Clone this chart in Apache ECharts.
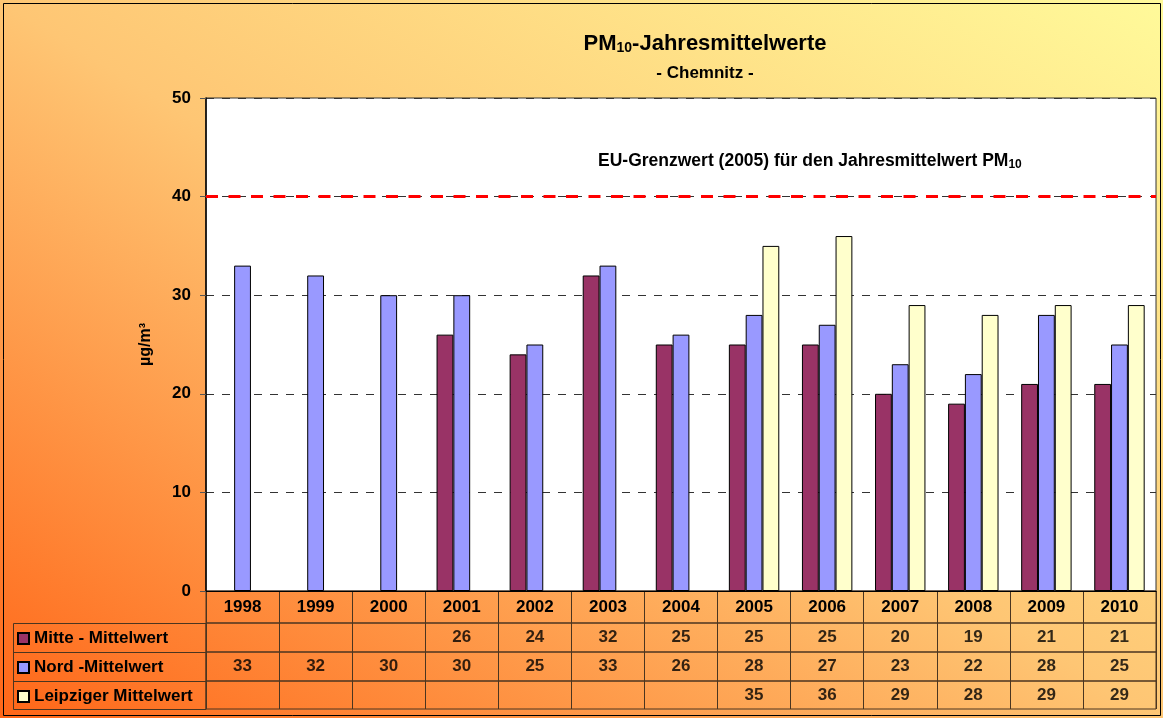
<!DOCTYPE html>
<html>
<head>
<meta charset="utf-8">
<script src="https://cdn.jsdelivr.net/npm/echarts@6/dist/echarts.min.js"></script>
<style>
  html, body { margin: 0; padding: 0; }
  #main { width: 1163px; height: 718px; }
</style>
</head>
<body>
<div id="main"></div>
<script>
// PM10-Jahresmittelwerte Chemnitz
var years = ['1998', '1999', '2000', '2001', '2002', '2003', '2004', '2005', '2006', '2007', '2008', '2009', '2010'];
var mitte = [null, null, null, 26, 24, 32, 25, 25, 25, 20, 19, 21, 21];
var nord = [33, 32, 30, 30, 25, 33, 26, 28, 27, 23, 22, 28, 25];
var leipzig = [null, null, null, null, null, null, null, 35, 36, 29, 28, 29, 29];
var seriesNames = ['Mitte - Mittelwert', 'Nord -Mittelwert', 'Leipziger Mittelwert'];
var seriesColors = ['#993366', '#9999FF', '#FFFFCC'];
var limitValue = 40;

var font = '"Liberation Sans", Arial, sans-serif';
var tableLine = '#4a3520';

var myChart = echarts.init(document.getElementById('main'));

// grids: 0 = plot, 1 = header row, 2..4 = table rows
var rowTops = [591, 623, 652, 681];
var rowHeights = [32, 29, 29, 28];
var grids = [{
    left: 206, right: 7, top: 98, height: 493,
    show: true, backgroundColor: '#fff', borderColor: '#333', borderWidth: 1
}];
var xAxes = [{
    type: 'category', gridIndex: 0, data: years,
    axisLine: { lineStyle: { color: '#000', width: 1 } },
    axisTick: { show: false },
    axisLabel: { margin: 8, color: '#000', fontSize: 17, fontWeight: 'bold', fontFamily: font }
}];
var yAxes = [{
    type: 'value', gridIndex: 0, min: 0, max: 50, interval: 10,
    name: 'µg/m³', nameLocation: 'middle', nameGap: 52, nameRotate: 90,
    nameTextStyle: { color: '#000', fontSize: 16, fontWeight: 'bold', fontFamily: font },
    axisLine: { show: true, lineStyle: { color: '#000', width: 1.5 } },
    axisTick: { show: true, length: 6, lineStyle: { color: '#555' } },
    axisLabel: { margin: 15, color: '#000', fontSize: 17, fontWeight: 'bold', fontFamily: font },
    splitLine: { lineStyle: { color: '#333', type: [8, 8], width: 1 } }
}];
for (var r = 0; r < 4; r++) {
    grids.push({
        left: 206, right: 7, top: rowTops[r], height: rowHeights[r],
        show: true, borderColor: tableLine, borderWidth: 1
    });
    xAxes.push({
        type: 'category', gridIndex: r + 1, data: years,
        axisLine: { show: false }, axisTick: { show: false }, axisLabel: { show: false },
        splitLine: { show: true, interval: 0, lineStyle: { color: tableLine, width: 1 } }
    });
    yAxes.push({ type: 'value', gridIndex: r + 1, min: 0, max: 1, show: false });
}

function barSeries(i, data) {
    return {
        name: seriesNames[i], type: 'bar', data: data,
        xAxisIndex: 0, yAxisIndex: 0,
        barGap: '0%', barCategoryGap: '31%',
        itemStyle: { color: seriesColors[i], borderColor: '#000', borderWidth: 1 }
    };
}

function tableSeries(r, data) {
    return {
        type: 'scatter', xAxisIndex: r + 2, yAxisIndex: r + 2,
        symbolSize: 0.1, silent: true,
        itemStyle: { color: 'rgba(0,0,0,0)' },
        data: data.map(function (v, i) { return v == null ? null : [i, 0.5, v]; }),
        label: {
            show: true, position: 'inside', color: '#000',
            fontSize: 17, fontWeight: 'bold', fontFamily: font,
            formatter: function (p) { return p.value[2]; }
        }
    };
}

var series = [barSeries(0, mitte), barSeries(1, nord), barSeries(2, leipzig)];
series[1].markLine = {
    silent: true, symbol: ['none', 'none'],
    label: { show: false },
    lineStyle: { color: '#FF0000', width: 3, type: [12, 10.5] },
    data: [{ yAxis: limitValue }]
};
series.push(tableSeries(0, mitte), tableSeries(1, nord), tableSeries(2, leipzig));

var option = {
    animation: false,
    // diagonal gradient, orange bottom-left to yellow top-right
    backgroundColor: new echarts.graphic.LinearGradient(260, 879, 902, -161, [
        { offset: 0, color: '#FF6618' },
        { offset: 0.5, color: '#FEC674' },
        { offset: 1, color: '#FFFA9A' }
    ], true),
    title: [{
        text: '{a|PM}{s|10}{a|-Jahresmittelwerte}',
        left: 700, top: 27, textAlign: 'center',
        textStyle: {
            rich: {
                a: { fontSize: 22, fontWeight: 'bold', color: '#000', fontFamily: font },
                s: { fontSize: 14, fontWeight: 'bold', color: '#000', fontFamily: font, padding: [9, 0, 0, 0] }
            }
        }
    }, {
        text: '- Chemnitz -',
        left: 700, top: 60, textAlign: 'center',
        textStyle: { fontSize: 17, fontWeight: 'bold', color: '#000', fontFamily: font }
    }, {
        text: '{a|EU-Grenzwert (2005) für den Jahresmittelwert PM}{s|10}',
        left: 593, top: 146,
        textStyle: {
            rich: {
                a: { fontSize: 17.5, fontWeight: 'bold', color: '#000', fontFamily: font },
                s: { fontSize: 12, fontWeight: 'bold', color: '#000', fontFamily: font, padding: [8, 0, 0, 0] }
            }
        }
    }],
    legend: {
        data: seriesNames,
        orient: 'vertical', left: 17, top: 630, padding: 0,
        itemWidth: 11, itemHeight: 11, itemGap: 12,
        icon: 'rect', selectedMode: false,
        textStyle: { color: '#000', fontSize: 17, fontWeight: 'bold', fontFamily: font }
    },
    grid: grids,
    xAxis: xAxes,
    yAxis: yAxes,
    series: series,
    graphic: [
        // outer frame
        { type: 'rect', silent: true, shape: { x: 3.5, y: 3.5, width: 1157, height: 712 },
          style: { fill: 'none', stroke: '#000', lineWidth: 1 } },
        // legend column of the data table
        { type: 'rect', silent: true, shape: { x: 13.5, y: 623.5, width: 192.5, height: 86 },
          style: { fill: 'none', stroke: tableLine, lineWidth: 1 } },
        { type: 'line', silent: true, shape: { x1: 13.5, y1: 652.5, x2: 206, y2: 652.5 },
          style: { stroke: tableLine, lineWidth: 1 } },
        { type: 'line', silent: true, shape: { x1: 13.5, y1: 681.5, x2: 206, y2: 681.5 },
          style: { stroke: tableLine, lineWidth: 1 } }
    ]
};

myChart.setOption(option);
window.onresize = myChart.resize;
</script>
</body>
</html>
